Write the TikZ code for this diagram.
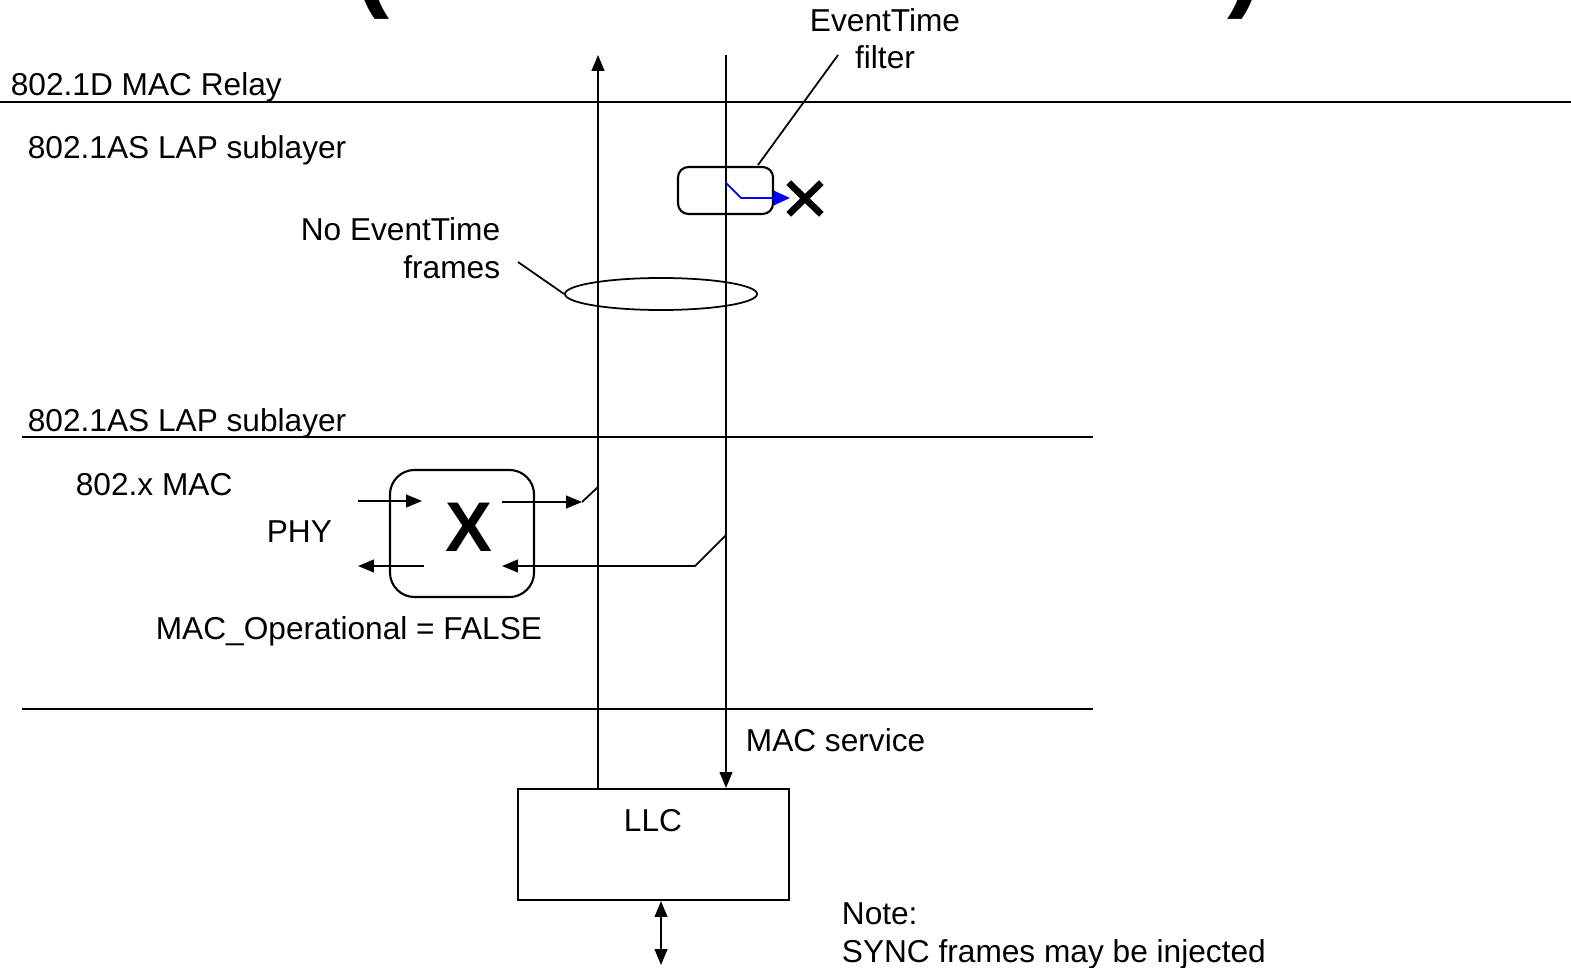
\documentclass[tikz,border=0pt]{standalone}
\usepackage{fontspec}
\setmainfont{Liberation Sans}
\usetikzlibrary{positioning, arrows.meta, shapes.geometric, shapes.misc, calc}
\definecolor{filterBlue}{HTML}{0000FF}

\tikzset{
  lbl/.style={inner sep=0pt, font=\fontsize{9}{10.8}\selectfont},
  layerline/.style={line width=0.45pt},
  tip/.style={-{Triangle[length=4.5pt,width=3.6pt]}},
  boxstyle/.style={draw, line width=0.6pt, inner sep=0pt}
}

\begin{document}
\begin{tikzpicture}[x=0.01cm, y=-0.01cm, line width=0.5pt]
  \useasboundingbox (0,0) rectangle (1571,967);
  % title fragments
  \node[anchor=base, inner sep=0pt, font=\fontsize{30}{30}\bfseries\selectfont] (titleL) at (372,-2) {(};
  \node[anchor=base, inner sep=0pt, font=\fontsize{30}{30}\bfseries\selectfont] (titleR) at (1245,-2) {)};
  % layers
  \draw[layerline] (0,102) -- (1571,102);
  \draw[layerline] (22,437) -- (1093,437);
  \draw[layerline] (22,709) -- (1093,709);
  \node[lbl, anchor=base west] (relayLbl) at (10,96) {802.1D MAC Relay};
  \node[lbl, anchor=base west] (lapUpper) at (27,159) {802.1AS LAP sublayer};
  \node[lbl, anchor=base west] (lapLower) at (27,431) {802.1AS LAP sublayer};
  \node[lbl, anchor=base west] (macLbl) at (75,495) {802.x MAC};
  \node[lbl, anchor=base west] (phyLbl) at (266,542) {PHY};
  \node[lbl, anchor=base west] (opLbl) at (155,639) {MAC\_Operational = FALSE};
  \node[lbl, anchor=base west] (svcLbl) at (745,751) {MAC service};
  \node[lbl, anchor=base west, align=left] (noteLbl) at (841,962) {Note:\\SYNC frames may be injected};
  % LLC and service lines
  \node[boxstyle, minimum width=2.71cm, minimum height=1.11cm] (llc) at (653.5,844.5) {};
  \node[lbl, anchor=base] (llcLbl) at (653,831) {LLC};
  \coordinate (upTop) at (598,55);
  \coordinate (downTop) at (726,55);
  \coordinate (svcEnd) at (661,965);
  \draw[tip] (llc.north -| upTop) -- (upTop);
  \draw[tip] (downTop) -- (downTop |- llc.north);
  \draw[{Triangle[length=4.5pt,width=3.6pt]}-{Triangle[length=4.5pt,width=3.6pt]}] (llc.south -| svcEnd) -- (svcEnd);
  % EventTime filter
  \node[boxstyle, rounded corners=3pt, minimum width=0.95cm, minimum height=0.47cm] (filter) at (725.5,190.5) {};
  \node[lbl, anchor=base, align=center] (filterLbl) at (885,69) {EventTime\\filter};
  \coordinate (filterTag) at (838,55);
  \draw (filterTag) -- (758,165);
  \coordinate (blueBend) at (741,198);
  \draw[filterBlue, -{Triangle[length=4.5pt,width=4pt]}] (726,183) -- (blueBend) -- (790,198);
  \node[cross out, draw, line width=1.9pt, minimum width=0.26cm, minimum height=0.25cm, inner sep=0pt] (dropX) at (805,198.5) {};
  % no EventTime frames
  \node[draw, ellipse, minimum width=1.92cm, minimum height=0.32cm, inner sep=0pt] (bundle) at (661,294) {};
  \node[lbl, anchor=base east, align=right] (noEvLbl) at (501,278) {No EventTime\\frames};
  \coordinate (bundleTag) at (518,262);
  \draw (bundleTag) -- (bundle.west);
  % MAC with PHY disabled
  \node[boxstyle, rounded corners=7pt, minimum width=1.44cm, minimum height=1.27cm] (macBox) at (462,533.5) {};
  \node[inner sep=0pt, font=\fontsize{20}{20}\bfseries\selectfont] (macX) at (469,527) {X};
  \draw[tip] (358,501) -- (422,501);
  \coordinate (swUp) at (582,502);
  \draw[tip] (502,502) -- (swUp);
  \draw (swUp) -- (598,487);
  \draw[tip] (424,566) -- (358,566);
  \coordinate (swDown) at (695,566);
  \draw[tip] (726,535) -- (swDown) -- (502,566);
\end{tikzpicture}
\end{document}
